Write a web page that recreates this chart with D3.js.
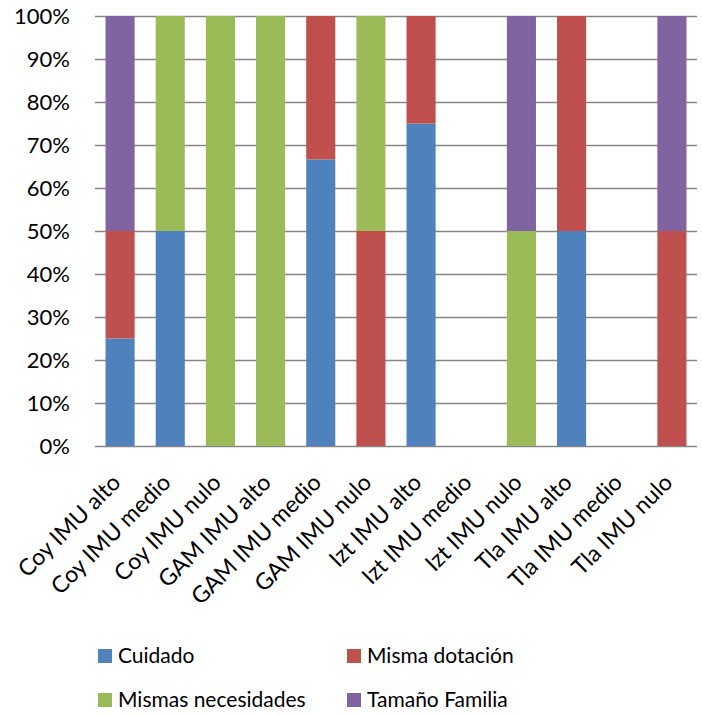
<!DOCTYPE html>
<html><head><meta charset="utf-8">
<script src="https://cdn.jsdelivr.net/npm/d3@7"></script>
<style>body{margin:0;background:#fff}text{font-family:Lato,"Open Sans",sans-serif;fill:#000}</style>
</head><body>
<svg id="c" width="702" height="715"></svg>
<script>
const categories = ["Coy IMU alto","Coy IMU medio","Coy IMU nulo","GAM IMU alto","GAM IMU medio","GAM IMU nulo","Izt IMU alto","Izt IMU medio","Izt IMU nulo","Tla IMU alto","Tla IMU medio","Tla IMU nulo"];
const seriesNames = ["Cuidado","Misma dotación","Mismas necesidades","Tamaño Familia"];
const colors = ["#4F81BD","#C0504D","#9BBB59","#8064A2"];
const cuidado =            [25,50,0,0,66.67,0,75,0,0,50,0,0];
const mismaDotacion =      [25,0,0,0,33.33,50,25,0,0,50,0,50];
const mismasNecesidades =  [0,50,100,100,0,50,0,0,50,0,0,0];
const tamanoFamilia =      [50,0,0,0,0,0,0,0,50,0,0,50];
const yTicks = [0,0.1,0.2,0.3,0.4,0.5,0.6,0.7,0.8,0.9,1];

const seriesVals = [cuidado, mismaDotacion, mismasNecesidades, tamanoFamilia];
const rows = categories.map((c,i)=>{
  const r = {cat:c};
  seriesNames.forEach((s,j)=> r[s] = seriesVals[j][i]);
  const tot = seriesNames.reduce((a,s)=>a+r[s],0);
  seriesNames.forEach(s=> r[s] = tot ? r[s]/tot : 0);
  return r;
});
const stack = d3.stack().keys(seriesNames)(rows);

const svg = d3.select("#c");
const m = {left:95, right:697, top:16, bottom:446};
const x = d3.scaleBand().domain(categories).range([m.left,m.right]).paddingInner(0.42).paddingOuter(0.21);
const y = d3.scaleLinear().domain([0,1]).range([m.bottom,m.top]);

// gridlines
svg.append("g").selectAll("line").data(yTicks).join("line")
  .attr("x1",m.left).attr("x2",m.right)
  .attr("y1",d=>Math.round(y(d))+0.5).attr("y2",d=>Math.round(y(d))+0.5)
  .attr("stroke","#868686").attr("stroke-width",1.3);

// y axis labels
const yAxis = d3.axisLeft(y).tickValues(yTicks).tickFormat(d3.format(".0%")).tickSize(0).tickPadding(25);
const ga = svg.append("g").attr("transform",`translate(${m.left},0)`).call(yAxis);
ga.select(".domain").remove();
ga.selectAll("text").attr("font-size",22).attr("font-family","Lato,'Open Sans',sans-serif").attr("dy","0.35em");

// bars
svg.append("g").selectAll("g").data(stack).join("g")
  .attr("fill",(d,i)=>colors[i])
  .selectAll("rect").data(d=>d).join("rect")
  .attr("x",d=>x(d.data.cat)).attr("width",x.bandwidth())
  .attr("y",d=>y(d[1])).attr("height",d=>Math.max(0,y(d[0])-y(d[1])));

// x labels
const gx = svg.append("g").attr("transform",`translate(0,${m.bottom})`)
  .call(d3.axisBottom(x).tickSize(0).tickPadding(0));
gx.select(".domain").remove();
gx.selectAll("text").attr("font-size",23).attr("font-family","Lato,'Open Sans',sans-serif")
  .attr("text-anchor","end").attr("dy",null).attr("y",0)
  .attr("transform","translate(2,38) rotate(-45)");

// legend
const legendPos = [[98,656],[347,656],[98,700],[347,700]];
const lg = svg.append("g").selectAll("g").data(seriesNames).join("g")
  .attr("transform",(d,i)=>`translate(${legendPos[i][0]},${legendPos[i][1]})`);
lg.append("rect").attr("x",0).attr("y",-7).attr("width",14).attr("height",14).attr("fill",(d,i)=>colors[i]);
lg.append("text").attr("x",20).attr("y",0).attr("dy","0.35em").attr("font-size",21).text(d=>d);
</script>
</body></html>
